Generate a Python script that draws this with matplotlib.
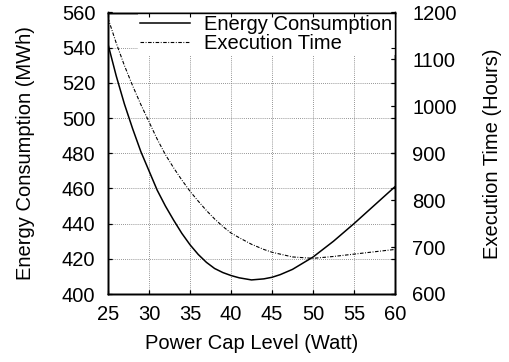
import matplotlib
matplotlib.use("Agg")
import matplotlib.pyplot as plt

plt.rcParams["font.family"] = ["Liberation Sans", "DejaVu Sans"]
plt.rcParams["font.size"] = 14.5

# ── Data ─────────────────────────────────────────────────────────────────────
power_cap = [25, 26, 27, 28, 29, 30, 31, 32, 33, 34, 35, 36, 37, 38, 39,
             40, 41, 42.5, 44, 45, 46, 47.5, 50, 52.5, 55, 57.5, 60]
energy_mwh = [542, 524, 508, 494, 481, 470, 459, 450, 442, 434.5, 428, 422.5,
              418, 414.5, 412.2, 410.5, 409.2, 408, 408.6, 409.5, 411, 414,
              421, 430, 440, 450.5, 461]
exec_hours = [1188, 1135, 1087, 1044, 1004, 967, 930, 897, 869, 843, 819, 798,
              778, 760, 744, 730, 720, 706, 695, 689, 685, 679, 676, 680, 685,
              690, 695]

x_ticks = [25, 30, 35, 40, 45, 50, 55, 60]
energy_ticks = [400, 420, 440, 460, 480, 500, 520, 540, 560]
time_ticks = [600, 700, 800, 900, 1000, 1100, 1200]

# ── Plot ─────────────────────────────────────────────────────────────────────
RECT = [108 / 509, 1 - 294 / 362, 287 / 509, 281.5 / 362]
TICK = dict(direction="in", length=3, width=0.8)

fig = plt.figure(figsize=(5.09, 3.62), dpi=100)
ax = fig.add_axes(RECT)
ax2 = ax.twinx()

l1, = ax.plot(power_cap, energy_mwh, color="black", lw=1.1,
              label="Energy Consumption", zorder=3)
l2, = ax2.plot(power_cap, exec_hours, color="black", lw=0.8,
               linestyle=(0, (3.2, 1.4, 0.8, 1.4)),
               label="Execution Time", zorder=3)

ax.set_xlim(25, 60)
ax.set_ylim(400, 560)
ax2.set_ylim(600, 1200)
ax.set_xticks(x_ticks)
ax.set_yticks(energy_ticks)
ax2.set_yticks(time_ticks)

ax.grid(True, color="0.45", linestyle=(0, (1, 1.5)), linewidth=0.6, zorder=0)

ax.tick_params(axis="both", top=True, right=True, **TICK)
ax.tick_params(axis="x", pad=8)
ax.tick_params(axis="y", pad=9)
ax2.tick_params(axis="y", pad=12.5, **TICK)

ax.set_xlabel("Power Cap Level (Watt)", labelpad=7)
ax.set_ylabel("Energy Consumption (MWh)", labelpad=19.5)
ax2.set_ylabel("Execution Time (Hours)", labelpad=18.5)

# legend: no frame, white box that hides the grid behind it
leg = ax2.legend(handles=[l1, l2], loc="upper right",
                 bbox_to_anchor=(1.0, 1.0),
                 frameon=True, framealpha=1, facecolor="white",
                 edgecolor="none", fancybox=False,
                 handlelength=2.5, handletextpad=0.7,
                 labelspacing=0.0, borderpad=0.12, borderaxespad=0.0)

# overlay axes so the frame and tick marks stay on top of the legend box
ov = fig.add_axes(RECT, sharex=ax, sharey=ax)
ov.patch.set_visible(False)
ov.tick_params(axis="both", top=True, right=True,
               labelbottom=False, labelleft=False, **TICK)
ov2 = fig.add_axes(RECT, sharex=ax, sharey=ax2)
ov2.patch.set_visible(False)
for sp in ov2.spines.values():
    sp.set_visible(False)
ov2.tick_params(axis="x", bottom=False, labelbottom=False)
ov2.tick_params(axis="y", left=False, right=True, labelleft=False, **TICK)

for a in (ax, ax2, ov):
    for sp in a.spines.values():
        sp.set_linewidth(1.0)

fig.savefig("out.png", dpi=100)
